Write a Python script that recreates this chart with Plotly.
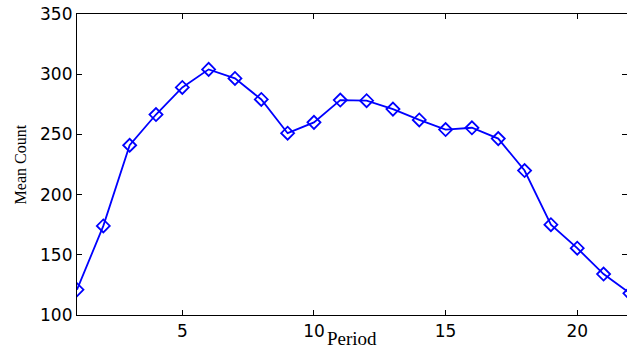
import plotly.graph_objects as go

period = list(range(1, 23))
mean_count = [121, 174, 241, 266.5, 289, 304, 296.5, 279, 251, 260, 278.5, 278,
              271, 262, 254, 255.5, 246.5, 220, 175, 155.5, 134, 118]
x_ticks = [5, 10, 15, 20]
y_ticks = [100, 150, 200, 250, 300, 350]

fig = go.Figure()
fig.add_trace(go.Scatter(
    x=period, y=mean_count, mode="lines+markers",
    line=dict(color="#0000FF", width=1.8),
    marker=dict(symbol="diamond-open", size=10, color="#0000FF",
                line=dict(color="#0000FF", width=1.8)),
    showlegend=False,
))

axis_common = dict(
    showline=True, linecolor="black", linewidth=1.2, mirror="ticks",
    ticks="inside", ticklen=5, tickcolor="black", tickwidth=1,
    showgrid=False, zeroline=False,
    tickfont=dict(family="DejaVu Sans", size=17, color="black"),
)

fig.update_layout(
    width=627, height=351,
    margin=dict(l=77, r=0, t=14, b=36),
    paper_bgcolor="white", plot_bgcolor="white",
    xaxis=dict(range=[1, 21.89], tickvals=x_ticks, ticktext=[str(v) for v in x_ticks],
               **axis_common),
    yaxis=dict(range=[100, 350], tickvals=y_ticks, ticktext=[str(v) for v in y_ticks],
               **axis_common),
    annotations=[
        dict(text="Period", x=0.5, y=-0.078, xref="paper", yref="paper",
             xanchor="center", yanchor="middle", showarrow=False,
             font=dict(family="Liberation Serif", size=19, color="black")),
        dict(text="Mean Count", x=-0.102, y=0.5, xref="paper", yref="paper",
             xanchor="center", yanchor="middle", showarrow=False, textangle=-90,
             font=dict(family="Liberation Serif", size=16, color="black")),
    ],
)

fig.write_html("out.html")
